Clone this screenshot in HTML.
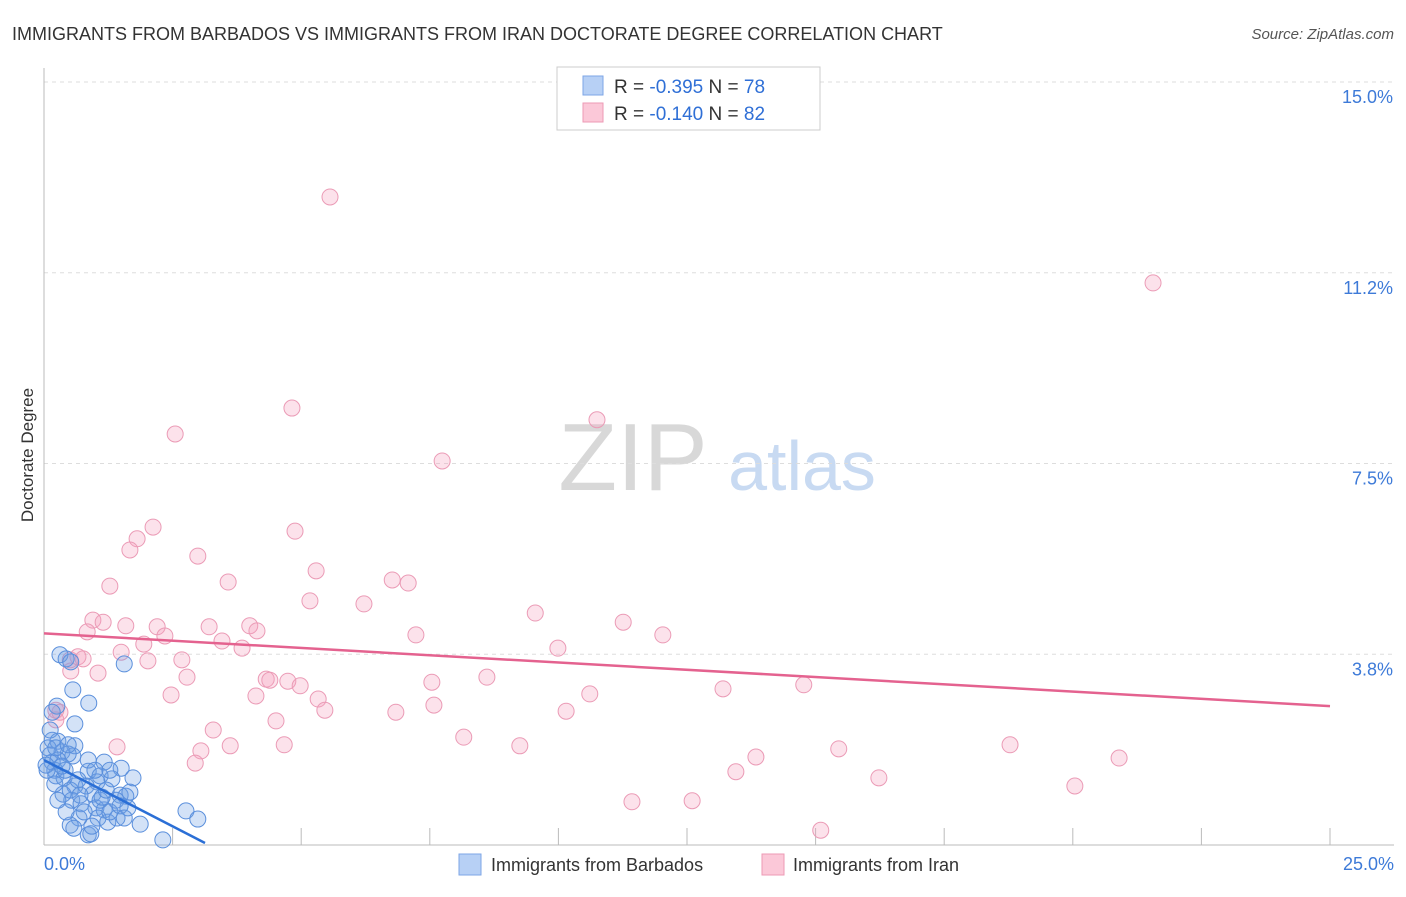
<!DOCTYPE html>
<html><head><meta charset="utf-8"><style>
body{margin:0;background:#fff;font-family:"Liberation Sans",sans-serif;}
svg text{font-family:"Liberation Sans",sans-serif;}
</style></head><body>
<svg id="chart" width="1406" height="892" xmlns="http://www.w3.org/2000/svg">
<text x="12" y="40" font-size="18" fill="#333">IMMIGRANTS FROM BARBADOS VS IMMIGRANTS FROM IRAN DOCTORATE DEGREE CORRELATION CHART</text>
<text x="1394" y="39" font-size="15" fill="#555" text-anchor="end" font-style="italic">Source: ZipAtlas.com</text>
<g>
<text x="633" y="490" font-size="96" fill="#d8d8d8" text-anchor="middle" font-family="Liberation Serif">ZIP</text>
<text x="802" y="490" font-size="70" fill="#c8daf2" text-anchor="middle">atlas</text>
</g>
<text transform="translate(33,455) rotate(-90)" font-size="17" fill="#333" text-anchor="middle">Doctorate Degree</text>
<g id="grid"></g><g id="axes"></g><g id="marks"></g>
<g>
<rect x="557" y="67" width="263" height="63" fill="#fff" stroke="#ccc"/>
<rect x="583" y="76" width="20" height="19" fill="#b7d0f5" stroke="#7ea6e6"/>
<rect x="583" y="103" width="20" height="19" fill="#fbc8d8" stroke="#ec9ab5"/>
<text x="614" y="93" font-size="19" fill="#333">R = <tspan fill="#2f6fd6">-0.395</tspan>   N = <tspan fill="#2f6fd6">78</tspan></text>
<text x="614" y="120" font-size="19" fill="#333">R = <tspan fill="#2f6fd6">-0.140</tspan>   N = <tspan fill="#2f6fd6">82</tspan></text>
</g>
<g>
<rect x="459" y="854" width="22" height="21" fill="#b7d0f5" stroke="#7ea6e6"/>
<text x="491" y="871" font-size="18" fill="#333">Immigrants from Barbados</text>
<rect x="762" y="854" width="22" height="21" fill="#fbc8d8" stroke="#ec9ab5"/>
<text x="793" y="871" font-size="18" fill="#333">Immigrants from Iran</text>
</g>
</svg>
<script>
const yTicks=[3.75,7.5,11.25,15];
const yTickLabels=["3.8%","7.5%","11.2%","15.0%"];
const xTickLabels=["0.0%","25.0%"];
const pinkX=[5.56,21.56,4.82,10.75,2.55,7.74,2.12,4.88,1.81,1.67,2.99,5.29,3.58,6.77,7.08,1.28,5.17,6.22,9.55,0.95,1.15,1.59,0.84,2.20,3.21,4.00,4.14,7.23,11.26,12.03,2.35,3.46,1.94,3.85,9.99,1.50,0.66,0.76,2.02,2.68,0.52,1.05,2.78,4.32,4.39,4.74,4.98,7.54,8.61,13.20,14.77,2.47,4.12,5.33,5.46,7.58,10.61,6.84,10.15,0.31,0.23,4.51,3.29,8.16,1.42,3.62,4.67,9.25,3.05,13.84,15.45,18.78,20.90,2.94,13.45,16.23,20.04,11.43,12.60,15.10,0.51,0.23];
const pinkY=[12.74,11.05,8.59,8.36,8.08,7.55,6.25,6.17,6.02,5.80,5.68,5.39,5.17,5.21,5.15,5.09,4.80,4.74,4.56,4.42,4.38,4.31,4.19,4.29,4.29,4.31,4.21,4.13,4.38,4.13,4.11,4.01,3.95,3.87,3.87,3.79,3.70,3.66,3.62,3.64,3.42,3.38,3.30,3.26,3.24,3.22,3.13,3.20,3.30,3.07,3.15,2.95,2.93,2.87,2.65,2.75,2.97,2.61,2.63,2.61,2.46,2.44,2.26,2.12,1.93,1.95,1.97,1.95,1.85,1.73,1.89,1.97,1.71,1.61,1.44,1.32,1.16,0.85,0.87,0.29,3.64,2.65];
const blueX=[0.31,0.43,1.56,0.52,0.56,0.87,0.25,0.16,0.60,0.16,0.27,0.60,0.35,0.08,0.56,0.47,1.17,0.16,0.21,0.23,0.86,1.50,1.73,1.09,1.32,1.03,0.39,0.60,0.82,0.37,0.54,0.21,0.51,0.95,1.48,1.59,1.40,0.72,1.01,1.17,1.63,2.76,2.99,0.68,1.05,1.24,1.42,1.87,0.51,0.58,0.86,0.91,2.31,0.06,0.12,0.27,0.04,0.41,0.66,1.09,1.28,1.67,1.48,0.43,0.78,1.13,0.35,0.86,0.12,0.23,0.47,1.28,0.70,0.99,0.27,1.21,1.56,0.93];
const blueY=[3.74,3.66,3.56,3.60,3.05,2.79,2.73,2.61,2.38,2.06,2.04,1.95,1.83,1.91,1.75,1.79,1.63,1.63,1.47,1.36,1.45,1.51,1.32,1.36,1.30,1.24,1.32,1.16,1.16,1.00,0.88,1.20,1.08,1.00,0.98,0.96,0.88,0.81,0.73,0.69,0.73,0.67,0.51,0.53,0.53,0.45,0.53,0.41,0.39,0.33,0.20,0.22,0.10,1.47,1.77,1.67,1.57,1.47,1.28,0.88,0.65,1.04,0.77,0.65,0.65,0.94,1.55,1.67,2.26,1.91,1.97,1.47,0.98,1.47,0.88,1.08,0.53,0.37];
const pinkTrendX=[0,25];
const pinkTrendY=[4.16,2.73];
const blueTrendX=[0,3.13];
const blueTrendY=[1.67,0.04];

const NS="http://www.w3.org/2000/svg";
const X0=44,X1=1330,Y0=845,YTOP=82;
const xs=v=>X0+(v/25)*(X1-X0);
const ys=v=>Y0-(v/15)*(Y0-YTOP);
function mk(tag,attrs,parent){const e=document.createElementNS(NS,tag);for(const k in attrs)e.setAttribute(k,attrs[k]);document.getElementById(parent).appendChild(e);return e;}
yTicks.forEach((t,i)=>{
 const l=mk('line',{x1:X0,x2:1394,y1:ys(t),y2:ys(t),stroke:'#ddd','stroke-dasharray':'4,4'},'grid');
 
 
 const tx=mk('text',{x:1393,y:ys(t)+21,'font-size':18,fill:'#3d7ad8','text-anchor':'end'},'axes');
 tx.textContent=yTickLabels[i];
 
 
});
const ya=mk('line',{x1:X0,x2:X0,y1:68,y2:Y0,stroke:'#bbb'},'axes');


const xa=mk('line',{x1:X0,x2:1394,y1:Y0,y2:Y0,stroke:'#bbb'},'axes');


for(let i=0;i<=10;i++){
 const tk=mk('line',{x1:xs(i*2.5),x2:xs(i*2.5),y1:Y0,y2:Y0-17,stroke:'#bbb'},'axes');
 
 
}
[[0,'start',44],[25,'end',1394]].forEach((a,i)=>{
 const t=mk('text',{x:a[2],y:870,'font-size':18,fill:'#3d7ad8','text-anchor':a[1]},'axes');
 t.textContent=xTickLabels[i];
 
 
});
pinkX.forEach((v,i)=>{
 const c=mk('circle',{cx:xs(v),cy:ys(pinkY[i]),r:8,fill:'rgba(244,160,190,0.3)',stroke:'#eb9bb6','stroke-width':1},'marks');
 
 
});
blueX.forEach((v,i)=>{
 const c=mk('circle',{cx:xs(v),cy:ys(blueY[i]),r:8,fill:'rgba(110,160,230,0.3)',stroke:'#5a8fdc','stroke-width':1},'marks');
 
 
});
const pl=mk('line',{x1:xs(pinkTrendX[0]),y1:ys(pinkTrendY[0]),x2:xs(pinkTrendX[1]),y2:ys(pinkTrendY[1]),stroke:'#e4628f','stroke-width':2.5},'marks');


const bl=mk('line',{x1:xs(blueTrendX[0]),y1:ys(blueTrendY[0]),x2:xs(blueTrendX[1]),y2:ys(blueTrendY[1]),stroke:'#2b6fd6','stroke-width':2.5},'marks');


</script>
</body></html>
